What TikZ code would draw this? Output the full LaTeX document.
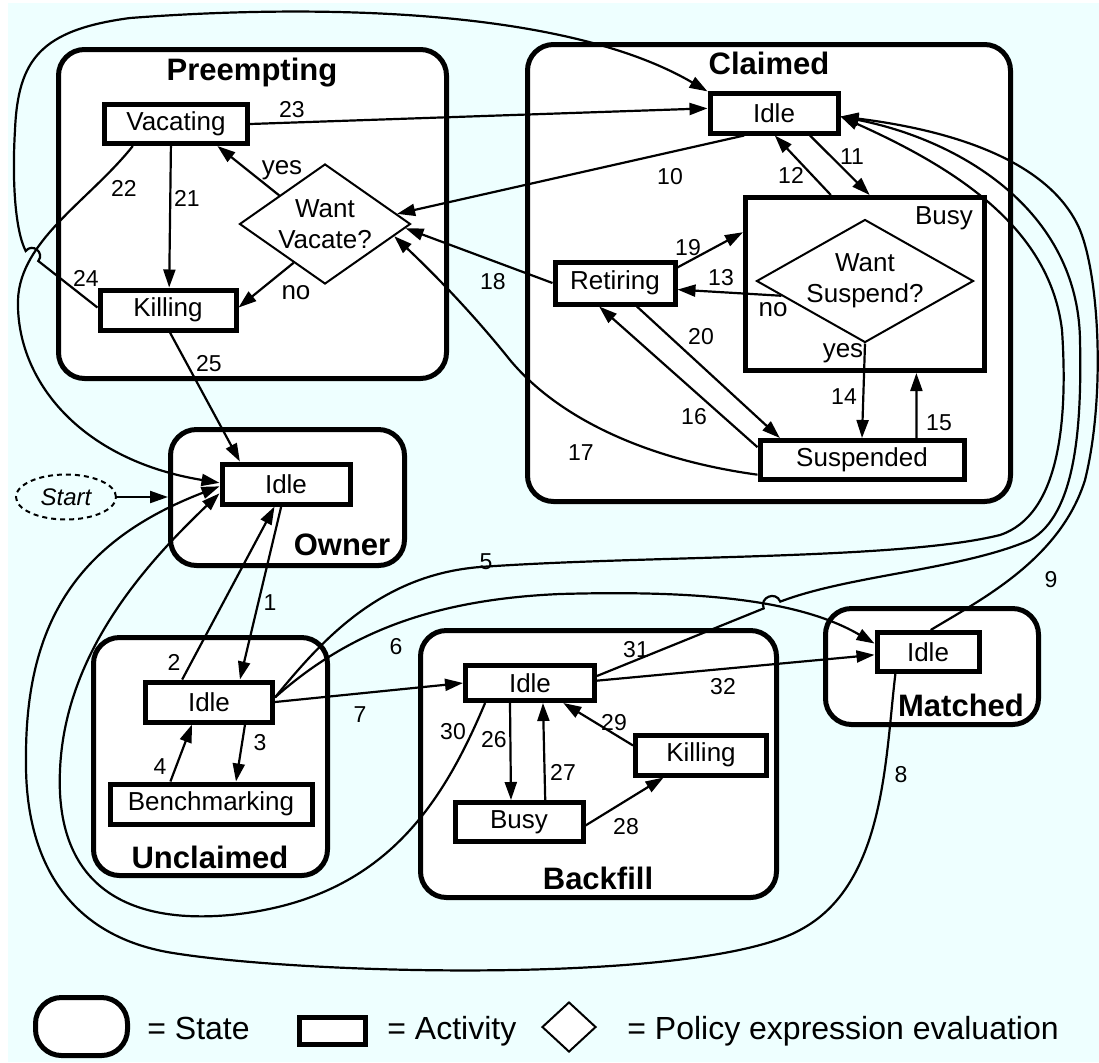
\documentclass[tikz,border=0pt]{standalone}
\usepackage{fontspec}
\setmainfont{Liberation Sans}
\usetikzlibrary{arrows.meta,shapes.geometric}

\definecolor{bgcyan}{RGB}{238,255,255}

\tikzset{state/.style = {draw, line width=2.5pt, rounded corners=13pt, fill=white, inner sep=0pt},
         act/.style = {draw, line width=2.5pt, fill=white, inner sep=0pt,
                       font=\fontsize{13}{15.6}\selectfont},
         word/.style = {inner sep=0pt, font=\fontsize{13}{15.6}\selectfont},
         policy/.style = {diamond, draw, line width=1pt, fill=white, inner sep=0pt,
                          align=center, font=\fontsize{13}{15.5}\selectfont},
         title/.style = {inner sep=0pt, font=\bfseries\fontsize{15.5}{18}\selectfont},
         num/.style = {inner sep=0pt, font=\fontsize{11.5}{13}\selectfont},
         key/.style = {inner sep=0pt, anchor=base west, font=\fontsize{16}{19}\selectfont},
         tr/.style = {-{Triangle[length=9pt,width=6pt]}, line width=1.1pt}
        }

\begin{document}
\begin{tikzpicture}[x=0.5pt, y=-0.5pt]
  \useasboundingbox (0,0) rectangle (1099,1062);
  \fill[white] (0,0) rectangle (1099,1062);
  \fill[bgcyan] (8,3) rectangle (1099,1062);

  % states
  \node[state, minimum width=194pt, minimum height=164.5pt] (preempting) at (252.5,214) {};
  \node[title] (tpreempting) at (252,73) {Preempting};
  \node[state, minimum width=241.5pt, minimum height=228.5pt] (claimed) at (769,273) {};
  \node[title] (tclaimed) at (769,63) {Claimed};
  \node[state, minimum width=117pt, minimum height=68pt] (owner) at (287.5,497.5) {};
  \node[title] (towner) at (342,545) {Owner};
  \node[state, minimum width=117pt, minimum height=119pt] (unclaimed) at (210.5,756.5) {};
  \node[title] (tunclaimed) at (210,857) {Unclaimed};
  \node[state, minimum width=178pt, minimum height=133.5pt] (backfill) at (598.5,764) {};
  \node[title] (tbackfill) at (598,878) {Backfill};
  \node[state, minimum width=106.5pt, minimum height=58pt] (matched) at (932,666.5) {};
  \node[title] (tmatched) at (961,705) {Matched};

  % activities
  \node[act, minimum width=71.5pt, minimum height=19.5pt] (vac) at (176,124) {Vacating};
  \node[act, minimum width=68pt, minimum height=20pt] (pkill) at (168,310) {Killing};
  \node[policy, minimum width=85.5pt, minimum height=60pt, aspect=1.425] (wv) at (325,224) {Want\\Vacate?};
  \node[act, minimum width=64pt, minimum height=20pt] (cidle) at (774,113) {Idle};
  \node[act, minimum width=119.5pt, minimum height=86.5pt] (busy) at (865,284) {};
  \node[word] (tbusy) at (944,218) {Busy};
  \node[policy, minimum width=108.5pt, minimum height=61.5pt, aspect=1.76] (ws) at (865,281) {Want\\Suspend?};
  \node[act, minimum width=60pt, minimum height=21pt] (ret) at (615,283) {Retiring};
  \node[act, minimum width=102pt, minimum height=19.5pt] (susp) at (862,460) {Suspended};
  \node[act, minimum width=64pt, minimum height=20pt] (oidle) at (286,484) {Idle};
  \node[act, minimum width=63.5pt, minimum height=20pt] (uidle) at (209,702) {Idle};
  \node[act, minimum width=101pt, minimum height=20pt] (bench) at (211,804) {Benchmarking};
  \node[act, minimum width=64.5pt, minimum height=17.5pt] (bidle) at (530,683) {Idle};
  \node[act, minimum width=64pt, minimum height=19.5pt] (bbusy) at (519,822) {Busy};
  \node[act, minimum width=65.5pt, minimum height=20pt] (bkill) at (701,755) {Killing};
  \node[act, minimum width=51pt, minimum height=19.5pt] (midle) at (928,652) {Idle};

  \node[draw, dashed, dash pattern=on 2.5pt off 2pt, ellipse, line width=1pt,
        minimum width=50pt, minimum height=22.5pt, inner sep=0pt,
        font=\itshape\fontsize{12}{14}\selectfont] (start) at (66,497) {Start};

  % transitions
  \draw[tr] (start.east) -- (start.east -| owner.west);
  \draw[tr] (oidle.-102) -- (uidle.36);
  \draw[tr] (uidle.140) -- (oidle.-117);
  \draw[tr] (uidle.-32) -- (bench.42);
  \draw[tr] (bench.151) -- (uidle.-127);
  \draw[tr] (uidle.4) .. controls (322,640) and (380,575) .. (480,567)
            .. controls (650,555) and (900,560) .. (1000,535)
            .. controls (1060,515) and (1068,420) .. (1062,330)
            .. controls (1050,230) and (960,170) .. (cidle.-3);
  \draw[tr] (uidle.4) .. controls (340,640) and (420,600) .. (560,594)
            .. controls (700,590) and (800,600) .. (midle.171);
  \draw[tr] (uidle.east) -- (bidle.west);
  \draw[tr] (midle.-146) .. controls (885,760) and (885,885) .. (800,930)
            .. controls (700,985) and (300,975) .. (167,952)
            .. controls (60,932) and (25,850) .. (26,760)
            .. controls (25,620) and (80,540) .. (oidle.-178);
  \draw[tr] (midle.83) .. controls (980,600) and (1060,560) .. (1085,480)
            .. controls (1105,400) and (1100,280) .. (1080,230)
            .. controls (1050,160) and (950,130) .. (cidle.-3);
  \draw[tr] (cidle.-143) -- (wv.8);
  \draw[tr] (cidle.-32) -- (busy.87);
  \draw[tr] (busy.111) -- (cidle.-88);
  \draw[tr] (ws.-170) -- (ret.-6);
  \draw[tr] (ws.south) -- (susp.north);
  \draw[tr] (susp.22) -- (busy.-60);
  \draw[tr] (susp.173) -- (ret.-124);
  \draw[tr] (susp.-172) .. controls (650,460) and (560,420) .. (510,360)
            .. controls (470,310) and (430,270) .. (wv.-10);
  \draw[tr] (ret.west) -- (wv.-3);
  \draw[tr] (ret.14) -- (busy.157);
  \draw[tr] (ret.-47) -- (susp.165);
  \draw[tr] (vac.-103) -- (pkill.87);
  \draw[tr] (vac.-153) .. controls (90,200) and (20,240) .. (18,300)
            .. controls (16,380) and (80,460) .. (oidle.179);
  \draw[tr] (vac.east) -- (cidle.176);
  \draw[tr] (pkill.178) -- (38.3,261) .. controls (44.9,252.6) and (32.3,242.6) .. (25.7,251)
            .. controls (15,230) and (12,180) .. (15,130)
            .. controls (18,60) and (40,30) .. (130,18)
            .. controls (300,5) and (560,5) .. (cidle.162);
  \draw[tr] (pkill.-85) -- (oidle.154);
  \draw[tr] (wv.148) -- (vac.-28);
  \draw[tr] (wv.-129) -- (pkill.2);
  \draw[tr] (bidle.-135) -- (bbusy.110);
  \draw[tr] (bbusy.40) -- (bidle.-57);
  \draw[tr] (bbusy.-3) -- (bkill.-149);
  \draw[tr] (bkill.172) -- (bidle.-31);
  \draw[tr] (bidle.-156) .. controls (440,810) and (380,900) .. (230,915)
            .. controls (120,925) and (55,880) .. (60,770)
            .. controls (65,650) and (150,560) .. (oidle.-172);
  \draw[tr] (bidle.6) -- (763.7,608.4) .. controls (759.2,597.3) and (775.8,590.5) .. (780.3,601.6)
            .. controls (850,575) and (960,570) .. (1030,540)
            .. controls (1075,515) and (1082,430) .. (1080,340)
            .. controls (1078,210) and (960,140) .. (cidle.-3);
  \draw[tr] (bidle.2) -- (midle.-177);

  % labels
  \node[num] (n1) at (270,603) {1};
  \node[num] (n2) at (174,662) {2};
  \node[num] (n3) at (260,743) {3};
  \node[num] (n4) at (160,767) {4};
  \node[num] (n5) at (486,562) {5};
  \node[num] (n6) at (396,647) {6};
  \node[num] (n7) at (360,715) {7};
  \node[num] (n8) at (901,775) {8};
  \node[num] (n9) at (1051,580) {9};
  \node[num] (n10) at (670,177) {10};
  \node[num] (n11) at (852,157) {11};
  \node[num] (n12) at (791,175) {12};
  \node[num] (n13) at (721,278) {13};
  \node[num] (n14) at (844,397) {14};
  \node[num] (n15) at (939,423) {15};
  \node[num] (n16) at (694,417) {16};
  \node[num] (n17) at (581,453) {17};
  \node[num] (n18) at (493,282) {18};
  \node[num] (n19) at (688,248) {19};
  \node[num] (n20) at (701,337) {20};
  \node[num] (n21) at (187,198) {21};
  \node[num] (n22) at (124,188) {22};
  \node[num] (n23) at (292,110) {23};
  \node[num] (n24) at (86,278) {24};
  \node[num] (n25) at (209,364) {25};
  \node[num] (n26) at (494,740) {26};
  \node[num] (n27) at (563,772) {27};
  \node[num] (n28) at (626,827) {28};
  \node[num] (n29) at (614,723) {29};
  \node[num] (n30) at (453,732) {30};
  \node[num] (n31) at (636,650) {31};
  \node[num] (n32) at (723,687) {32};
  \node[word] (yesv) at (282,170) {yes};
  \node[word] (nov) at (296,293) {no};
  \node[word] (nos) at (773,310) {no};
  \node[word] (yess) at (843,353) {yes};

  % legend
  \node[state, minimum width=46pt, minimum height=29pt, rounded corners=13pt] (kstate) at (81.5,1026.5) {};
  \node[key] (tstate) at (147,1039) {= State};
  \node[act, minimum width=33pt, minimum height=13.5pt] (kact) at (332.5,1031) {};
  \node[key] (tact) at (387,1039) {= Activity};
  \node[policy, minimum width=27pt, minimum height=25pt] (kpol) at (569,1027) {};
  \node[key] (tpol) at (627,1039) {= Policy expression evaluation};
\end{tikzpicture}
\end{document}
